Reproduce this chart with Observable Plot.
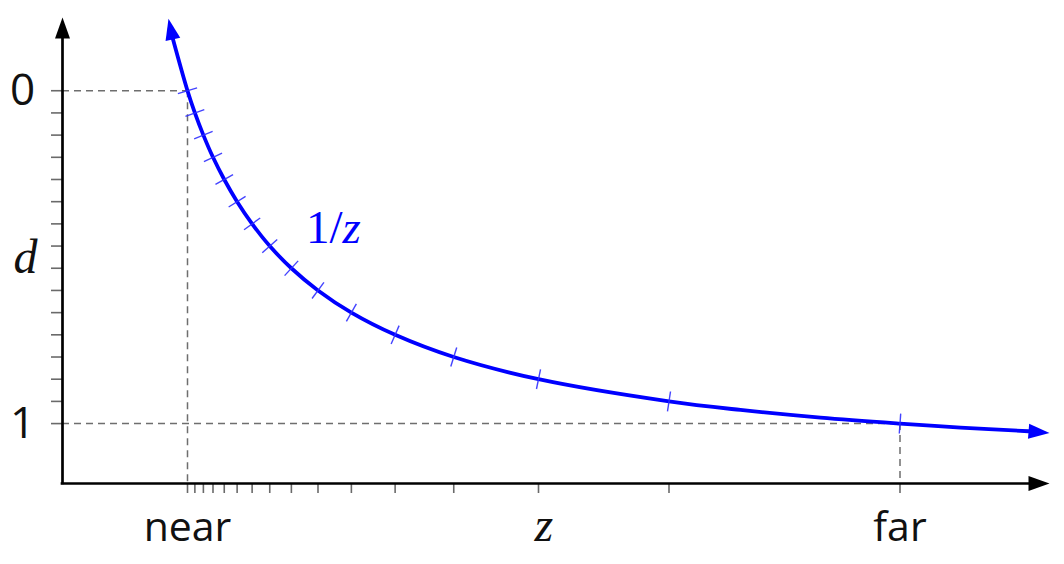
<!DOCTYPE html>
<html><head><meta charset="utf-8">
<script src="https://cdn.jsdelivr.net/npm/d3@7"></script>
<script src="https://cdn.jsdelivr.net/npm/@observablehq/plot@0.6"></script>
<style>body{margin:0;background:#fff}</style>
</head><body><div id="chart"></div>
<script>
// ---- data ----
const nearZ = 1.0, farZ = 6.7;               // z of "near" and "far"
const zDomain = [0, 7.896];                  // x axis extent (origin .. arrow tip)
const dDomain = [-0.22, 1.18];               // d axis extent (arrow tip .. origin), 0 at top
const dTicks = [0, 1/15, 2/15, 3/15, 4/15, 5/15, 6/15, 7/15, 8/15, 9/15, 10/15, 11/15, 12/15, 13/15, 14/15, 1];
const zTicks = [1.000, 1.059, 1.127, 1.204, 1.294, 1.397, 1.517, 1.658, 1.831, 2.044, 2.311, 2.661, 3.130, 3.808, 4.852, 6.700];
const curveExtraZ = [0.880, 5.424, 6.064, 7.184, 7.728];
const curveExtraD = [-0.160, 0.959, 0.982, 1.012, 1.023];
const curveTipStart = {z: 0.848, d: -0.216};
const curveTipEnd = {z: 7.896, d: 1.028};
const yLabels = [{d: 0, t: "0"}, {d: 1, t: "1"}];
const dLabel = {d: 0.5, t: "d"};
const xLabels = [{z: nearZ, t: "near"}, {z: farZ, t: "far"}];
const zLabel = {t: "z"};
const curveLabel = {z: 2.24, d: 0.456, a: "1/", b: "z"};

// ---- layout ----
const W = 1064, H = 564;
const mL = 62, mR = 15, mT = 17, mB = 81;
const xs = Plot.scale({x: {domain: zDomain, range: [mL, W - mR]}});
const ys = Plot.scale({y: {domain: dDomain, range: [mT, H - mB]}});
const px = p => [xs.apply(p.z), ys.apply(p.d)];
const angleOf = (a, b) => { const [x0, y0] = px(a), [x1, y1] = px(b); return Math.atan2(x1 - x0, -(y1 - y0)) * 180 / Math.PI; };

// curve points (ticks on the curve + extra read points), ordered by z
const curve = zTicks.map((z, i) => ({z, d: dTicks[i], tick: true}))
  .concat(curveExtraZ.map((z, i) => ({z, d: curveExtraD[i], tick: false})))
  .sort((a, b) => a.z - b.z);
curve.forEach((p, i) => {
  const a = curve[Math.max(0, i - 1)], b = curve[Math.min(curve.length - 1, i + 1)];
  p.angle = angleOf(a, b);
});
const curveTicks = curve.filter(p => p.tick);

const arrows = [
  {z: curveTipStart.z, d: curveTipStart.d, angle: angleOf(curve[0], curveTipStart), c: "#0000ff"},
  {z: curveTipEnd.z, d: curveTipEnd.d, angle: angleOf(curve[curve.length - 1], curveTipEnd), c: "#0000ff"},
  {z: zDomain[0], d: dDomain[0], angle: 0, c: "#000"},
  {z: zDomain[1], d: dDomain[1], angle: 90, c: "#000"}
];

const arrowHead = {draw(ctx) { ctx.moveTo(0, 0); ctx.lineTo(-7.5, 21); ctx.lineTo(7.5, 21); ctx.closePath(); }};
const crossTick = {draw(ctx) { ctx.moveTo(-10, 0); ctx.lineTo(10, 0); }};

const yAxisEnd = ys.invert(ys.apply(dDomain[0]) + 14);
const xAxisEnd = xs.invert(xs.apply(zDomain[1]) - 14);
const dash = {stroke: "#6e6e6e", strokeWidth: 1.5, strokeDasharray: "7,5"};

const chart = Plot.plot({
  width: W, height: H,
  marginLeft: mL, marginRight: mR, marginTop: mT, marginBottom: mB,
  x: {domain: zDomain},
  y: {domain: dDomain, reverse: true},
  style: {background: "#fff", fontFamily: "Open Sans"},
  marks: [
    Plot.axisX({ticks: zTicks, tickSize: 10, tickFormat: () => "", stroke: "#6a6a6a", strokeWidth: 1.6, label: null}),
    Plot.axisY({ticks: dTicks, tickSize: 11, tickFormat: () => "", stroke: "#6a6a6a", strokeWidth: 1.6, label: null}),
    // dashed guides
    Plot.ruleY([0], {x1: 0, x2: nearZ, ...dash}),
    Plot.ruleY([1], {x1: 0, x2: farZ, ...dash}),
    Plot.ruleX([nearZ], {y1: 0, y2: dDomain[1], ...dash}),
    Plot.ruleX([farZ], {y1: 1, y2: dDomain[1], ...dash}),
    // axes lines
    Plot.ruleX([0], {y1: dDomain[1], y2: yAxisEnd, stroke: "#000", strokeWidth: 2.7, strokeLinecap: "square"}),
    Plot.ruleY([dDomain[1]], {x1: 0, x2: xAxisEnd, stroke: "#000", strokeWidth: 2.7, strokeLinecap: "square"}),
    // curve
    Plot.line(curve, {x: "z", y: "d", stroke: "#0000ff", strokeWidth: 3.8, curve: "catmull-rom"}),
    Plot.dot(curveTicks, {x: "z", y: "d", symbol: crossTick, rotate: "angle", fill: "none", stroke: "#2f2fff", strokeWidth: 1.4, strokeOpacity: 0.9}),
    Plot.dot(arrows, {x: "z", y: "d", symbol: arrowHead, rotate: "angle", fill: "c", stroke: "none"}),
    // labels
    Plot.text(yLabels, {x: 0, y: "d", text: "t", dx: -40, fontSize: 44, fontFamily: "Open Sans", fill: "#111"}),
    Plot.text([dLabel], {x: 0, y: "d", text: "t", dx: -37, fontSize: 48, fontFamily: "Liberation Serif", fontStyle: "italic", fill: "#111"}),
    Plot.text(xLabels, {x: "z", y: dDomain[1], text: "t", dy: 57, lineAnchor: "bottom", fontSize: 41, fontFamily: "Open Sans", fill: "#111"}),
    Plot.text([zLabel], {x: (nearZ + farZ) / 2, y: dDomain[1], text: "t", dy: 57, lineAnchor: "bottom", fontSize: 48, fontFamily: "Liberation Serif", fontStyle: "italic", fill: "#111"}),
    Plot.text([curveLabel], {x: "z", y: "d", text: "a", textAnchor: "end", lineAnchor: "bottom", fontSize: 47, fontFamily: "Liberation Serif", fill: "#0000ff"}),
    Plot.text([curveLabel], {x: "z", y: "d", text: "b", textAnchor: "start", lineAnchor: "bottom", fontSize: 47, fontFamily: "Liberation Serif", fontStyle: "italic", fill: "#0000ff"})
  ]
});
document.getElementById("chart").appendChild(chart);
</script>
</body></html>
